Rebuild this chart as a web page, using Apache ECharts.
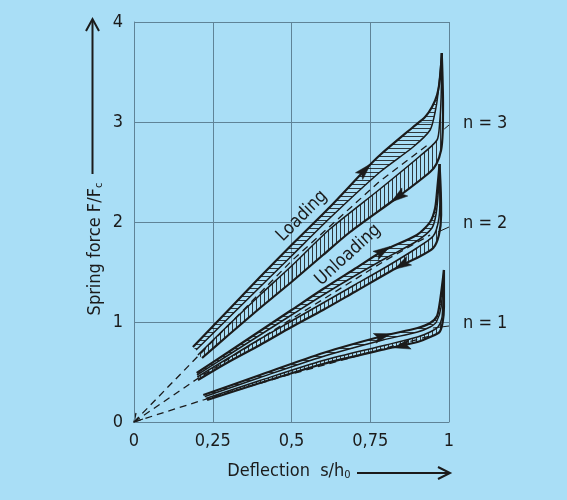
<!DOCTYPE html>
<html><head><meta charset="utf-8">
<script src="https://cdn.jsdelivr.net/npm/echarts@6/dist/echarts.min.js"></script>
<style>html,body{margin:0;padding:0;background:#a9def6;}#c{width:567px;height:500px;}</style>
</head><body><div id="c"></div>
<script>
// ---- data ----
const xTickLabels = ['0', '0,25', '0,5', '0,75', '1'];
const yTickLabels = ['0', '1', '2', '3', '4'];
const groupLabels = ['n = 3', 'n = 2', 'n = 1'];

// n = 3
const load3Outer = [[0.187,0.75],[0.3,1.12],[0.4,1.45],[0.5,1.77],[0.622,2.15],[0.733,2.52],[0.781,2.67],[0.886,2.95],[0.924,3.05],[0.946,3.15],[0.962,3.27],[0.972,3.45],[0.977,3.69]];
const load3Inner = [[0.197,0.72],[0.3,1.04],[0.4,1.35],[0.5,1.66],[0.622,2.04],[0.781,2.50],[0.886,2.75],[0.94,2.92],[0.956,3.10],[0.965,3.28],[0.977,3.69]];
const unload3Inner = [[0.203,0.67],[0.3,0.97],[0.4,1.27],[0.5,1.56],[0.622,1.93],[0.781,2.33],[0.908,2.66],[0.962,2.82],[0.970,2.98],[0.975,3.25],[0.977,3.69]];
const unload3Outer = [[0.216,0.64],[0.3,0.87],[0.4,1.14],[0.5,1.40],[0.6,1.67],[0.686,1.90],[0.838,2.25],[0.94,2.50],[0.96,2.58],[0.975,2.72],[0.98,2.90],[0.981,3.2],[0.979,3.5],[0.977,3.69]];
const dashed3 = [[0,0],[0.185,0.60],[0.5,1.61],[0.781,2.41],[0.94,2.79]];
const leader3 = [[0.985,2.93],[1.0,2.97]];

// n = 2
const load2Outer = [[0.199,0.49],[0.3,0.70],[0.4,0.91],[0.5,1.12],[0.6,1.33],[0.7,1.53],[0.79,1.71],[0.898,1.87],[0.94,2.0],[0.956,2.14],[0.963,2.34],[0.970,2.58]];
const load2Inner = [[0.200,0.47],[0.3,0.67],[0.4,0.87],[0.5,1.07],[0.6,1.27],[0.7,1.46],[0.8,1.64],[0.898,1.81],[0.946,1.94],[0.959,2.08],[0.966,2.3],[0.970,2.58]];
const unload2Inner = [[0.201,0.45],[0.3,0.64],[0.4,0.83],[0.5,1.01],[0.6,1.19],[0.7,1.37],[0.8,1.55],[0.898,1.74],[0.95,1.86],[0.966,2.0],[0.971,2.2],[0.970,2.58]];
const unload2Outer = [[0.203,0.42],[0.3,0.60],[0.4,0.77],[0.5,0.95],[0.6,1.12],[0.7,1.30],[0.85,1.57],[0.898,1.64],[0.95,1.74],[0.968,1.87],[0.975,2.07],[0.974,2.3],[0.970,2.58]];
const dashed2 = [[0,0],[0.2,0.43],[0.5,1.03],[0.8,1.62],[0.94,1.87]];
const leader2 = [[0.965,1.90],[1.0,1.95]];

// n = 1
const load1Outer = [[0.220,0.27],[0.4,0.47],[0.6,0.69],[0.79,0.86],[0.9,0.94],[0.94,0.99],[0.962,1.06],[0.972,1.22],[0.984,1.52]];
const load1Inner = [[0.225,0.255],[0.4,0.445],[0.6,0.655],[0.79,0.82],[0.9,0.90],[0.94,0.95],[0.960,1.0],[0.975,1.15],[0.984,1.52]];
const unload1Inner = [[0.228,0.235],[0.4,0.415],[0.6,0.615],[0.8,0.77],[0.9,0.85],[0.94,0.90],[0.965,0.95],[0.978,1.05],[0.984,1.52]];
const unload1Outer = [[0.232,0.22],[0.4,0.39],[0.6,0.58],[0.8,0.73],[0.9,0.80],[0.94,0.85],[0.97,0.90],[0.980,1.0],[0.984,1.15],[0.984,1.52]];
const dashed1 = [[0,0],[0.22,0.22],[0.5,0.48],[0.8,0.74],[0.94,0.86]];
const leader1 = [[0.949,0.94],[1.0,0.96]];

// direction arrows: [x, y] on the curves
const loadArrows = [[0.733,2.52],[0.79,1.71],[0.79,0.86]];
const unloadArrows = [[0.838,2.25],[0.85,1.57],[0.85,0.76]];
// ---- end data ----

const INK = '#1b1b1b';
const GRID = '#5f8397';
const FONT = "'Liberation Sans Narrow','DejaVu Sans Condensed','Liberation Sans',sans-serif";

function hatch(dir) {
  const c = document.createElement('canvas');
  c.width = 4; c.height = 4;
  const g = c.getContext('2d');
  g.strokeStyle = 'rgba(25,25,25,0.85)';
  g.lineWidth = 1;
  g.beginPath();
  if (dir === 'h') { g.moveTo(0, 0.5); g.lineTo(4, 0.5); }
  else { g.moveTo(0.5, 0); g.lineTo(0.5, 4); }
  g.stroke();
  return c;
}
const hPat = hatch('h'), vPat = hatch('v');

function band(a, b, pat) {
  return {
    type: 'custom', coordinateSystem: 'cartesian2d', silent: true, z: 1,
    data: [a[0]],
    renderItem: function (params, api) {
      const pts = a.map(p => api.coord(p)).concat(b.slice().reverse().map(p => api.coord(p)));
      return { type: 'polygon', shape: { points: pts }, style: { fill: { image: pat, repeat: 'repeat' }, stroke: null } };
    }
  };
}
function curve(d, w) {
  return { type: 'line', data: d, showSymbol: false, smooth: 0.25, z: 3, silent: true,
    lineStyle: { color: INK, width: w } };
}
function dash(d) {
  return { type: 'line', data: d, showSymbol: false, z: 2, silent: true,
    lineStyle: { color: INK, width: 1.3, type: [7, 5] } };
}
function thin(d) {
  return { type: 'line', data: d, showSymbol: false, z: 2, silent: true,
    lineStyle: { color: INK, width: 1 } };
}

const groups = [
  [load3Outer, load3Inner, unload3Inner, unload3Outer, dashed3, leader3],
  [load2Outer, load2Inner, unload2Inner, unload2Outer, dashed2, leader2],
  [load1Outer, load1Inner, unload1Inner, unload1Outer, dashed1, leader1]
];

const series = [];
groups.forEach(g => {
  series.push(band(g[0], g[1], hPat));
  series.push(band(g[2], g[3], vPat));
  series.push(curve(g[0], 2.2));
  series.push(curve(g[1], 1.5));
  series.push(curve(g[2], 1.5));
  series.push(curve(g[3], 2.2));
  series.push(dash(g[4]));
  series.push(thin(g[5]));
});

// arrowheads drawn as small polygons oriented along the curve direction (angle in dim 2)
const arrowSeriesIndex = series.length;
series.push({
  type: 'custom', coordinateSystem: 'cartesian2d', silent: true, z: 6,
  data: [],
  renderItem: function (params, api) {
    const c = api.coord([api.value(0), api.value(1)]);
    const a = api.value(2) * Math.PI / 180;
    const ux = Math.cos(a), uy = -Math.sin(a);
    const px = -uy, py = ux;
    const L = 17, W = 5;
    const tip = [c[0] + ux * L / 2, c[1] + uy * L / 2];
    const back = [c[0] - ux * L / 2, c[1] - uy * L / 2];
    const notch = [c[0] - ux * L * 0.3, c[1] - uy * L * 0.3];
    return { type: 'polygon', shape: { points: [
      tip, [back[0] + px * W, back[1] + py * W], notch, [back[0] - px * W, back[1] - py * W]
    ] }, style: { fill: INK, stroke: INK, lineWidth: 0.5 } };
  }
});

const chart = echarts.init(document.getElementById('c'), null, { renderer: 'canvas' });
const axisLabelStyle = { color: INK, fontSize: 18, fontFamily: FONT };
chart.setOption({
  animation: false,
  backgroundColor: '#a9def6',
  grid: { left: 134, right: 118, top: 22, bottom: 78, containLabel: false },
  xAxis: {
    type: 'value', min: 0, max: 1, interval: 0.25,
    axisLine: { show: true, lineStyle: { color: GRID, width: 1 } },
    axisTick: { show: false },
    splitLine: { show: true, lineStyle: { color: GRID, width: 1 } },
    axisLabel: Object.assign({ margin: 10, formatter: (v, i) => xTickLabels[i] }, axisLabelStyle)
  },
  yAxis: {
    type: 'value', min: 0, max: 4, interval: 1,
    axisLine: { show: true, lineStyle: { color: GRID, width: 1 } },
    axisTick: { show: false },
    splitLine: { show: true, lineStyle: { color: GRID, width: 1 } },
    axisLabel: Object.assign({ margin: 11, formatter: (v, i) => yTickLabels[i] }, axisLabelStyle)
  },
  series: series
});

function dirDeg(c, x) {
  let i = 0;
  while (i < c.length - 2 && c[i + 1][0] < x) i++;
  const p1 = chart.convertToPixel({ gridIndex: 0 }, c[i]);
  const p2 = chart.convertToPixel({ gridIndex: 0 }, c[i + 1]);
  return Math.atan2(-(p2[1] - p1[1]), p2[0] - p1[0]) * 180 / Math.PI;
}
const arrowData = [];
groups.forEach((g, k) => {
  arrowData.push([loadArrows[k][0], loadArrows[k][1], dirDeg(g[0], loadArrows[k][0])]);
  arrowData.push([unloadArrows[k][0], unloadArrows[k][1], dirDeg(g[3], unloadArrows[k][0]) + 180]);
});

const P = p => chart.convertToPixel({ gridIndex: 0 }, p);
const o = P([0, 0]);
const graphics = [];
groupLabels.forEach((t, k) => {
  const p = P([1, 3 - k]);
  graphics.push({ type: 'text', x: p[0] + 14, y: p[1] + 1,
    style: { text: t, fill: INK, font: '18px ' + FONT, align: 'left', verticalAlign: 'middle' } });
});
graphics.push({ type: 'text', x: 302, y: 216, rotation: Math.PI / 4,
  style: { text: 'Loading', fill: INK, font: '18px ' + FONT, align: 'center', verticalAlign: 'middle' } });
graphics.push({ type: 'text', x: 348, y: 255, rotation: Math.PI * 0.235,
  style: { text: 'Unloading', fill: INK, font: '18px ' + FONT, align: 'center', verticalAlign: 'middle' } });
graphics.push({ type: 'text', x: 95, y: 249, rotation: Math.PI / 2,
  style: { text: 'Spring force F/F{s|c}', fill: INK, font: '18px ' + FONT, align: 'center', verticalAlign: 'middle',
    rich: { s: { fontSize: 11, fontFamily: FONT, fill: INK, verticalAlign: 'bottom', padding: [8, 0, 0, 0] } } } });
graphics.push({ type: 'line', shape: { x1: 92.5, y1: 174, x2: 92.5, y2: 20 }, style: { stroke: INK, lineWidth: 2 } });
graphics.push({ type: 'polyline', shape: { points: [[86, 31], [92.5, 19], [99, 31]] }, style: { stroke: INK, lineWidth: 2, fill: null } });
graphics.push({ type: 'text', x: 289, y: 471,
  style: { text: 'Deflection  s/h{s|0}', fill: INK, font: '18px ' + FONT, align: 'center', verticalAlign: 'middle',
    rich: { s: { fontSize: 11, fontFamily: FONT, fill: INK, verticalAlign: 'bottom', padding: [8, 0, 0, 0] } } } });
graphics.push({ type: 'line', shape: { x1: 357, y1: 473, x2: 449, y2: 473 }, style: { stroke: INK, lineWidth: 2 } });
graphics.push({ type: 'polyline', shape: { points: [[438, 467], [450, 473], [438, 479]] }, style: { stroke: INK, lineWidth: 2, fill: null } });
graphics.push({ type: 'polyline', shape: { points: [[o[0] + 2, o[1] - 9], [o[0], o[1]], [o[0] + 9, o[1] - 3]] }, style: { stroke: INK, lineWidth: 1.3, fill: null } });

const newSeries = series.map(() => ({}));
newSeries[arrowSeriesIndex] = { data: arrowData };
chart.setOption({ series: newSeries, graphic: graphics });
</script></body></html>
